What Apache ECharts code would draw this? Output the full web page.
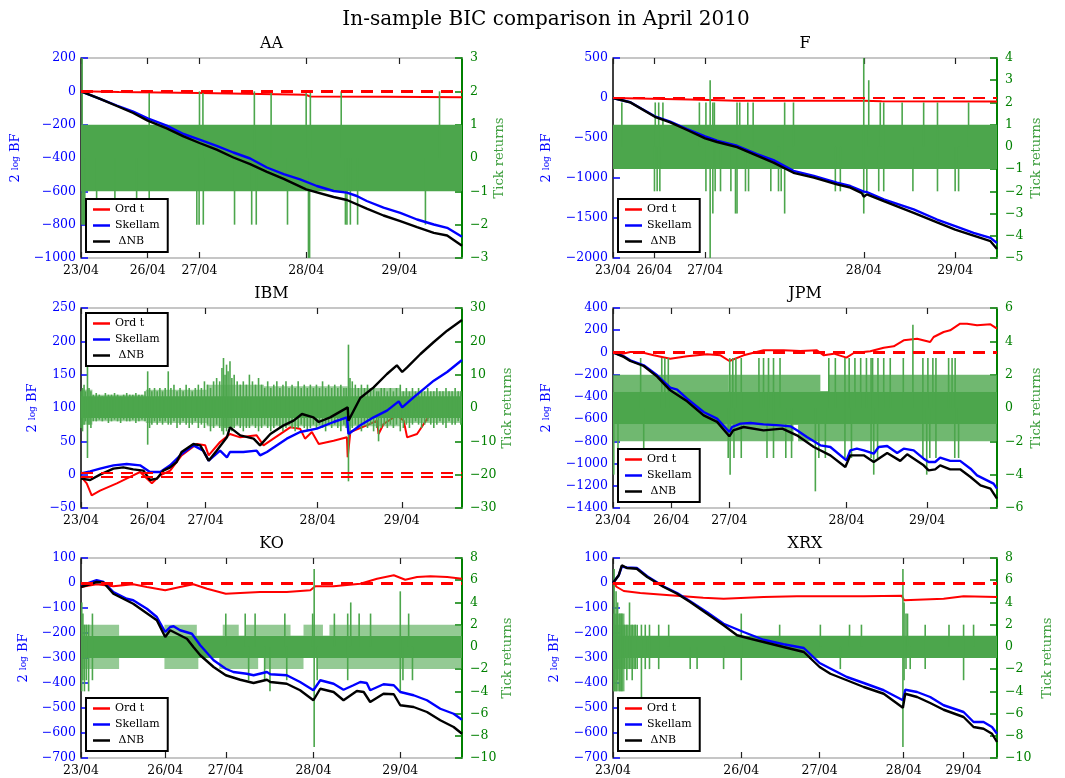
<!DOCTYPE html>
<html>
<head>
<meta charset="utf-8">
<title>In-sample BIC comparison in April 2010</title>
<script src="https://cdn.jsdelivr.net/npm/echarts@6/dist/echarts.min.js"></script>
<style>
  html, body { margin: 0; padding: 0; background: #ffffff; }
  #chart { width: 1065px; height: 778px; }
</style>
</head>
<body>
<div id="chart"></div>
<script>
// ---------------------------------------------------------------------------
// Data. x is the tick (observation) index of each stock, rescaled to 0..1000.
// Line values are 2 log Bayes factors; return values are tick returns.
// Return blocks: [x0, x1, lo, hi, share of ticks reaching that level].
// Return excursions: [x, lo, hi].
// ---------------------------------------------------------------------------
const dayLabels = ['23/04', '26/04', '27/04', '28/04', '29/04'];
const seriesNames = ['Ord t', 'Skellam', '\u0394NB'];
const thresholds = [2.5, -2.5];

// ---- AA ----
const aaDays = [0, 175, 311, 591, 836];
const aaOrdT = [[0,0],[100,-4],[311,-10],[591,-21],[602,-31],[800,-33],[1000,-35]];
const aaSkellam = [[0,0],[50,-45],[94,-85],[137,-122],[175,-162],[225,-206],[269,-256],[311,-290],[356,-327],[400,-367],[444,-403],[488,-457],[532,-497],[575,-528],[619,-568],[663,-598],[698,-608],[724,-628],[750,-658],[794,-698],[838,-729],[882,-769],[926,-799],[961,-819],[1000,-873]];
const aaDnb = [[0,0],[50,-45],[94,-88],[137,-130],[175,-176],[225,-222],[269,-270],[311,-310],[356,-350],[400,-397],[444,-437],[488,-483],[532,-525],[591,-588],[663,-634],[698,-652],[750,-704],[794,-745],[838,-779],[882,-815],[926,-849],[961,-865],[1000,-926]];
const aaBand = [[0,1000,-1,1,1]];
const aaSpikes = [[3,-2,3],[6,-2,0],[10,-2,0],[41,-2,0],[89,-2,0],[146,-2,0],[179,-2,2],[304,-2,0],[310,-2,0],[311,0,2],[320,0,2],[321,-2,0],[403,-2,0],[448,-2,0],[455,0,2],[460,-2,0],[499,0,2],[542,-2,0],[591,0,2],[597,-3,0],[600,-3,0],[602,0,2],[683,0,2],[694,-2,0],[698,-2,0],[707,-2,0],[726,-2,0],[904,-2,0],[941,0,2]];

// ---- F ----
const fDays = [0, 108, 240, 653, 891];
const fOrdT = [[0,0],[100,-10],[200,-20],[323,-35],[653,-35],[700,-40],[1000,-45]];
const fSkellam = [[0,0],[45,-53],[109,-229],[149,-296],[193,-388],[240,-480],[271,-534],[323,-597],[375,-702],[418,-777],[470,-911],[523,-974],[583,-1058],[618,-1100],[653,-1171],[661,-1175],[705,-1267],[783,-1393],[844,-1519],[891,-1602],[939,-1686],[983,-1749],[1000,-1812]];
const fDnb = [[0,0],[45,-55],[109,-235],[149,-305],[193,-400],[240,-505],[271,-550],[323,-615],[375,-720],[418,-807],[470,-935],[523,-995],[583,-1080],[618,-1120],[648,-1190],[653,-1234],[661,-1205],[705,-1290],[783,-1435],[844,-1555],[891,-1644],[939,-1720],[983,-1790],[1000,-1887]];
const fBand = [[0,1000,-1,1,1]];
const fSpikes = [[23,0,2],[108,-2,0],[110,0,2],[115,-2,0],[119,0,2],[122,-2,0],[130,0,2],[225,0,2],[242,-2,2],[253,-5,3],[260,-3,2],[264,0,2],[266,-2,0],[280,-2,0],[307,-2,0],[319,-3,0],[323,-3,2],[330,0,2],[345,-2,0],[351,0,2],[353,-2,0],[365,0,2],[411,-2,0],[431,-2,0],[438,-2,0],[447,-3,2],[470,0,2],[579,-2,0],[592,-2,0],[653,-3,4],[661,-2,0],[666,0,3],[692,-2,0],[696,0,2],[705,-2,2],[753,0,2],[781,-2,0],[809,0,2],[845,-2,2],[891,-2,0],[900,-2,0],[926,0,2]];

// ---- IBM ----
const ibmDays = [0, 175, 327, 621, 842];
const ibmOrdT = [[0,-3],[15,-13],[28,-31],[50,-24],[94,-13],[137,-1],[155,4],[186,-13],[208,-1],[234,6],[264,29],[304,46],[326,44],[335,29],[365,49],[391,61],[418,56],[461,59],[479,44],[505,54],[549,71],[575,69],[588,54],[606,64],[624,46],[663,51],[698,56],[700,26],[707,64],[750,74],[777,81],[781,61],[794,76],[829,89],[847,81],[856,56],[882,61],[917,91],[961,96],[978,106],[1000,102]];
const ibmSkellam = [[0,2],[24,5],[50,9],[85,14],[120,16],[155,14],[181,4],[208,4],[234,14],[264,31],[295,44],[321,36],[335,21],[365,36],[383,26],[391,34],[426,34],[461,36],[470,29],[488,34],[540,54],[575,64],[619,69],[663,79],[698,86],[702,61],[733,74],[768,86],[803,96],[834,110],[843,101],[873,116],[926,141],[961,154],[1000,172]];
const ibmDnb = [[0,-6],[24,-8],[50,0],[85,9],[111,11],[137,8],[164,6],[181,-8],[199,-6],[216,6],[234,11],[251,19],[264,34],[295,46],[313,44],[335,21],[356,36],[383,56],[391,71],[418,59],[453,54],[470,44],[497,61],[532,74],[558,81],[580,91],[610,86],[624,79],[654,86],[700,101],[702,81],[733,115],[768,131],[803,151],[829,164],[843,154],[856,161],[891,181],[926,199],[961,216],[1000,232]];
const ibmBand = [[0,1000,-3,3.5,1],
  [0,30,-5,5.5,0.55],[30,170,-4,4,0.55],[170,330,-4.5,5.5,0.55],[330,480,-5.5,7,0.55],
  [480,700,-5.5,6.5,0.55],[700,840,-5.5,6,0.55],[840,1000,-4.5,5,0.55]];
const ibmSpikes = [[0,-6,5],[4,-7,6],[8,-5,7],[12,-4,5],[17,-15,13],[21,-5,6],[26,-6,5],[32,-4,4],[40,-4,4.5],[48,-3.5,4],[56,-4,3.5],[64,-3.5,4.5],[72,-4.5,4],[80,-4,4],[88,-3.5,4.5],[96,-4,4],[104,-4.5,3.5],[112,-3.5,4],[120,-4,4.5],[128,-4,4],[136,-3.5,4],[144,-4.5,4.5],[152,-4,4],[160,-3.5,4],[168,-4,5],[175,-11,11],[180,-6,6],[186,-5,5],[193,-4,6],[200,-5,5],[207,-4,6],[214,-5,5],[221,-4,6],[229,-5,11],[236,-5,6],[244,-4,7],[252,-6,5],[260,-5,6],[268,-4,5],[276,-5,7],[284,-6,6],[292,-5,5],[300,-4,6],[308,-6,7],[316,-5,6],[324,-6,8],[332,-5,7],[340,-7,6],[348,-6,8],[356,-5,9],[364,-6,8],[370,-7,12],[374,-8,15],[378,-6,10],[382,-7,13],[386,-6,11],[391,-6,14],[396,-7,9],[402,-6,10],[410,-5,8],[418,-6,7],[426,-7,8],[434,-6,7],[442,-6,10],[450,-5,8],[458,-6,7],[466,-7,9],[474,-6,7],[482,-5,6],[490,-6,8],[498,-7,6],[506,-6,7],[514,-5,8],[522,-6,6],[530,-7,7],[538,-6,8],[546,-5,6],[554,-6,7],[562,-7,6],[570,-6,8],[578,-5,6],[586,-6,7],[594,-7,6],[602,-6,7],[610,-5,6],[618,-6,7],[626,-5,6],[634,-6,8],[642,-7,6],[650,-5,7],[658,-6,6],[666,-5,7],[674,-6,6],[682,-7,7],[690,-5,6],[696,-6,6],[702,-22,19],[706,-8,9],[712,-6,8],[720,-5,7],[728,-6,6],[736,-7,7],[744,-5,6],[752,-6,7],[760,-5,6],[768,-7,6],[776,-6,5],[781,-10,5],[788,-6,6],[796,-5,6],[804,-6,5],[812,-5,6],[820,-6,5],[828,-5,6],[838,-7,7],[846,-6,5],[854,-5,6],[862,-6,5],[870,-5,6],[878,-4,5],[886,-5,6],[894,-6,5],[902,-5,5],[910,-4,6],[918,-5,5],[926,-6,5],[934,-5,6],[942,-4,5],[950,-5,5],[958,-6,6],[966,-4,5],[974,-5,5],[982,-5,6],[990,-4,5],[997,-5,5]];

// ---- JPM ----
const jpmDays = [0, 152, 303, 608, 818];
const jpmOrdT = [[0,4],[19,-17],[45,4],[71,4],[106,-26],[149,-56],[193,-35],[245,-17],[280,-26],[303,-77],[340,-26],[392,19],[444,19],[488,13],[531,19],[549,-26],[575,-11],[608,-47],[627,-5],[670,10],[705,43],[731,55],[757,109],[792,124],[826,94],[835,139],[861,184],[878,199],[904,259],[922,259],[948,244],[983,253],[1000,214]];
const jpmSkellam = [[0,0],[28,-35],[45,-71],[80,-116],[115,-206],[149,-317],[167,-335],[193,-416],[236,-536],[271,-596],[303,-716],[310,-671],[332,-641],[358,-635],[392,-647],[436,-656],[462,-665],[479,-701],[505,-761],[540,-836],[566,-851],[608,-971],[618,-881],[635,-866],[653,-881],[679,-911],[692,-851],[714,-842],[740,-905],[757,-866],[783,-881],[809,-956],[822,-986],[839,-986],[852,-947],[878,-976],[904,-976],[931,-1046],[948,-1106],[974,-1151],[991,-1181],[1000,-1226]];
const jpmDnb = [[0,0],[28,-40],[45,-77],[80,-122],[115,-218],[149,-341],[193,-440],[236,-566],[271,-625],[303,-755],[313,-701],[340,-671],[392,-701],[441,-686],[479,-746],[523,-851],[566,-926],[605,-1031],[618,-926],[653,-926],[679,-986],[714,-905],[748,-976],[766,-917],[809,-1016],[822,-1061],[839,-1052],[852,-1016],[878,-1052],[904,-1052],[931,-1121],[957,-1196],[983,-1226],[1000,-1316]];
const jpmBand = [[0,1000,-1,1,1],
  [0,300,1,2,0.8],[300,540,1,2,0.8],[560,1000,1,2,0.8],
  [0,470,-2,-1,0.8],[482,1000,-2,-1,0.8]];
const jpmSpikes = [[2,-4,0],[13,-3,0],[72,0,3],[80,-3,0],[127,0,3],[135,0,3],[144,0,3],[300,-3,0],[304,0,3],[305,-4,0],[312,0,3],[315,-3,0],[320,0,3],[334,-3,3],[380,0,3],[392,0,3],[401,-3,0],[405,0,3],[418,-3,3],[435,0,3],[450,-3,0],[465,-3,0],[527,-5,0],[536,-3,0],[553,-3,0],[562,0,3],[579,0,3],[604,-3,3],[615,0,3],[621,-3,0],[630,0,3],[645,0,3],[660,0,3],[672,-3,3],[676,0,3],[679,-4,0],[689,-3,0],[690,0,3],[705,0,3],[722,0,3],[756,0,3],[781,0,5],[807,-3,3],[817,-4,0],[820,0,3],[825,-3,0],[833,0,3],[841,-3,3],[874,0,3],[883,0,3],[890,-3,0],[891,0,3],[900,-3,0]];

// ---- KO ----
const koDays = [0, 221, 380, 610, 838];
const koOrdT = [[0,-16],[41,-5],[85,-13],[137,-5],[173,-16],[221,-29],[260,-16],[295,-5],[331,-23],[380,-43],[418,-40],[470,-36],[540,-36],[602,-29],[615,-13],[663,-13],[733,-3],[777,17],[821,31],[851,13],[882,24],[917,27],[961,24],[1000,17]];
const koSkellam = [[0,-9],[15,-3],[41,11],[59,4],[85,-36],[120,-63],[137,-69],[173,-103],[199,-136],[221,-196],[234,-176],[243,-173],[260,-189],[291,-203],[313,-249],[348,-309],[380,-343],[400,-356],[435,-363],[453,-369],[488,-356],[497,-365],[540,-369],[575,-396],[610,-429],[628,-389],[663,-403],[689,-427],[715,-409],[733,-396],[750,-400],[759,-429],[794,-405],[821,-409],[838,-436],[873,-449],[908,-469],[943,-503],[978,-523],[1000,-547]];
const koDnb = [[0,-16],[41,4],[59,2],[85,-43],[137,-83],[199,-149],[221,-216],[234,-189],[278,-223],[295,-256],[313,-289],[348,-336],[380,-369],[418,-387],[453,-400],[488,-387],[497,-396],[540,-403],[575,-429],[610,-469],[628,-423],[663,-436],[689,-469],[724,-432],[742,-436],[759,-476],[794,-443],[821,-445],[838,-489],[873,-496],[908,-516],[943,-549],[978,-576],[1000,-603]];
const koBand = [[0,1000,-1,1,1],
  [0,100,1,2,0.6],[219,304,1,2,0.6],[372,414,1,2,0.6],[431,550,1,2,0.6],[584,635,1,2,0.6],[652,1000,1,2,0.6],
  [0,100,-2,-1,0.6],[219,308,-2,-1,0.6],[363,465,-2,-1,0.6],[482,584,-2,-1,0.6],[618,1000,-2,-1,0.6]];
const koSpikes = [[2,-4,4],[5,-3,3],[9,-4,2],[14,-3,2],[20,-4,2],[30,-3,3],[380,0,3],[431,0,3],[440,-3,0],[457,0,3],[482,-3,0],[496,-4,0],[535,0,3],[540,-3,0],[608,0,3],[612,-9,7],[620,-3,0],[665,0,3],[700,-3,3],[708,0,4],[730,0,3],[760,0,3],[838,-4,5],[845,-3,0],[860,0,3],[870,-3,0]];

// ---- XRX ----
const xrxDays = [0, 334, 538, 757, 913];
const xrxOrdT = [[0,0],[10,-16],[28,-32],[71,-40],[148,-49],[235,-59],[288,-63],[392,-56],[479,-53],[653,-53],[752,-51],[758,-69],[792,-67],[861,-63],[913,-53],[1000,-56]];
const xrxSkellam = [[0,0],[15,31],[23,66],[36,62],[62,60],[89,27],[132,-14],[167,-40],[201,-73],[245,-117],[288,-163],[340,-196],[392,-227],[444,-245],[497,-260],[538,-320],[609,-376],[653,-400],[705,-429],[755,-469],[761,-427],[792,-436],[826,-456],[861,-489],[913,-516],[939,-556],[965,-556],[987,-576],[1000,-603]];
const xrxDnb = [[0,0],[15,31],[23,71],[36,60],[62,57],[89,24],[132,-16],[167,-43],[201,-76],[245,-123],[288,-169],[323,-209],[358,-223],[392,-236],[444,-256],[497,-276],[538,-336],[566,-363],[609,-389],[653,-416],[705,-443],[755,-499],[761,-443],[792,-456],[826,-480],[861,-507],[913,-536],[939,-576],[965,-583],[987,-603],[1000,-636]];
const xrxBand = [[0,1000,-1,1,1],[0,60,-2,2,0.8],[0,30,-4,3,0.8]];
const xrxSpikes = [[3,-4,7],[8,-4,5],[12,-3,4],[18,-4,3],[23,-4,3],[30,-2,2],[36,-3,2],[43,-2,4],[50,-3,2],[58,-2,2],[63,-2,2],[74,-5,2],[84,-2,2],[95,-2,2],[119,-2,2],[145,0,2],[201,-2,0],[219,-2,0],[288,-2,0],[334,-3,3],[434,0,2],[540,0,2],[592,-2,0],[616,0,2],[647,0,2],[755,-9,7],[758,-3,4],[763,-2,3],[767,0,3],[774,-2,0],[813,-2,2],[875,0,2],[913,-3,2],[939,0,2]];

// ---------------------------------------------------------------------------
// Layout of the six panels (pixels) and their axis ranges [min, max, step].
// ---------------------------------------------------------------------------
const panels = [
  { name: 'AA',  days: aaDays,  ordT: aaOrdT,  skellam: aaSkellam,  dnb: aaDnb,  band: aaBand,  spikes: aaSpikes,
    left: 81,  top: 58,  width: 381, bf: [-1000, 200, 200], ret: [-3, 3, 1],   legendTop: 199, leftGap: 59, rightGap: 31 },
  { name: 'F',   days: fDays,   ordT: fOrdT,   skellam: fSkellam,   dnb: fDnb,   band: fBand,   spikes: fSpikes,
    left: 613, top: 58,  width: 384, bf: [-2000, 500, 500], ret: [-5, 4, 1],   legendTop: 199, leftGap: 60, rightGap: 33 },
  { name: 'IBM', days: ibmDays, ordT: ibmOrdT, skellam: ibmSkellam, dnb: ibmDnb, band: ibmBand, spikes: ibmSpikes,
    left: 81,  top: 308, width: 381, bf: [-50, 250, 50],    ret: [-30, 30, 10], legendTop: 313, leftGap: 42, rightGap: 39 },
  { name: 'JPM', days: jpmDays, ordT: jpmOrdT, skellam: jpmSkellam, dnb: jpmDnb, band: jpmBand, spikes: jpmSpikes,
    left: 613, top: 308, width: 384, bf: [-1400, 400, 200], ret: [-6, 6, 2],   legendTop: 449, leftGap: 60, rightGap: 33 },
  { name: 'KO',  days: koDays,  ordT: koOrdT,  skellam: koSkellam,  dnb: koDnb,  band: koBand,  spikes: koSpikes,
    left: 81,  top: 558, width: 381, bf: [-700, 100, 100],  ret: [-10, 8, 2],  legendTop: 698, leftGap: 51, rightGap: 39 },
  { name: 'XRX', days: xrxDays, ordT: xrxOrdT, skellam: xrxSkellam, dnb: xrxDnb, band: xrxBand, spikes: xrxSpikes,
    left: 613, top: 558, width: 384, bf: [-700, 100, 100],  ret: [-10, 8, 2],  legendTop: 698, leftGap: 52, rightGap: 44 }
];

const SERIF = 'DejaVu Serif';
const BLUE = '#0000ff';
const RED = '#ff0000';
const GREEN = '#4ca64c';
const GREEN_AXIS = '#008000';
const PANEL_H = 200;

const minusSign = v => String(v).replace('-', '\u2212');

// Block of tick returns: [x0, x1, lo, hi, share]
function renderBand(params, api) {
  const a = api.coord([api.value(0), api.value(3)]);
  const b = api.coord([api.value(1), api.value(2)]);
  return { type: 'rect', shape: { x: a[0], y: a[1], width: b[0] - a[0], height: b[1] - a[1] },
           style: { fill: GREEN, opacity: api.value(4) } };
}
// Single tick-return excursion: [x, lo, hi]
function renderSpike(params, api) {
  const top = api.coord([api.value(0), api.value(2)]);
  const bot = api.coord([api.value(0), api.value(1)]);
  return { type: 'rect', shape: { x: top[0] - 0.8, y: top[1], width: 1.6, height: bot[1] - top[1] },
           style: { fill: GREEN } };
}

const titles = [{
  text: 'In-sample BIC comparison in April 2010', left: 546, top: 10, textAlign: 'center', padding: 0,
  textStyle: { fontFamily: SERIF, fontSize: 20, fontWeight: 'normal', color: '#000' }
}];
const grids = [], xAxes = [], yAxes = [], series = [], legends = [];

panels.forEach((p, i) => {
  grids.push({ left: p.left, top: p.top, width: p.width, height: PANEL_H, show: false });
  titles.push({
    text: p.name, left: p.left + p.width / 2, top: p.top - 22, textAlign: 'center', padding: 0,
    textStyle: { fontFamily: SERIF, fontSize: 16, fontWeight: 'normal', color: '#000' }
  });

  const days = p.days;
  const frame = { show: true, onZero: false, lineStyle: { color: '#b4b4b4', width: 1.5 } };
  const xTicks = { show: true, inside: true, length: 6, customValues: days, lineStyle: { color: '#222', width: 1.2 } };
  xAxes.push({
    gridIndex: i, type: 'value', min: 0, max: 1000, position: 'bottom',
    axisLine: frame, axisTick: xTicks, splitLine: { show: false },
    axisLabel: { show: true, customValues: days, margin: 6, fontFamily: SERIF, fontSize: 12.5, color: '#000',
                 formatter: v => dayLabels[days.indexOf(v)] }
  });
  xAxes.push({
    gridIndex: i, type: 'value', min: 0, max: 1000, position: 'top',
    axisLine: frame, axisTick: xTicks, splitLine: { show: false }, axisLabel: { show: false }
  });

  yAxes.push({
    gridIndex: i, type: 'value', position: 'left', min: p.bf[0], max: p.bf[1], interval: p.bf[2],
    axisLine: { show: true, onZero: false, lineStyle: { color: '#000', width: 1.5 } },
    axisTick: { show: true, inside: true, length: 7, lineStyle: { color: BLUE, width: 1.5 } },
    axisLabel: { margin: 5, fontFamily: SERIF, fontSize: 12.5, color: BLUE, formatter: minusSign },
    splitLine: { show: false },
    name: '{a|2 }{b|log}{a| BF}', nameLocation: 'middle', nameRotate: 90, nameGap: p.leftGap,
    nameTextStyle: { rich: { a: { fontFamily: SERIF, fontSize: 13, color: BLUE },
                             b: { fontFamily: SERIF, fontSize: 9, color: BLUE } } }
  });
  yAxes.push({
    gridIndex: i, type: 'value', position: 'right', min: p.ret[0], max: p.ret[1], interval: p.ret[2],
    axisLine: { show: true, onZero: false, lineStyle: { color: GREEN_AXIS, width: 2 } },
    axisTick: { show: true, inside: true, length: 7, lineStyle: { color: GREEN_AXIS, width: 1.5 } },
    axisLabel: { margin: 8, fontFamily: SERIF, fontSize: 12.5, color: GREEN_AXIS, formatter: minusSign },
    splitLine: { show: false },
    name: 'Tick returns', nameLocation: 'middle', nameRotate: 90, nameGap: p.rightGap,
    nameTextStyle: { fontFamily: SERIF, fontSize: 13, color: '#3f9f3f' }
  });

  const xi = 2 * i, yl = 2 * i, yr = 2 * i + 1;
  series.push({
    name: seriesNames[0], type: 'line', xAxisIndex: xi, yAxisIndex: yl, data: p.ordT,
    showSymbol: false, symbol: 'none', z: 2, silent: true,
    lineStyle: { color: RED, width: 2 }, itemStyle: { color: RED },
    markLine: { silent: true, symbol: 'none', label: { show: false },
                lineStyle: { color: RED, type: [12, 8], width: 2.2 },
                data: thresholds.map(t => ({ yAxis: t })) }
  });
  series.push({
    type: 'custom', xAxisIndex: xi, yAxisIndex: yr, data: p.band, renderItem: renderBand,
    encode: { x: [0, 1], y: [2, 3] }, z: 3, silent: true
  });
  series.push({
    type: 'custom', xAxisIndex: xi, yAxisIndex: yr, data: p.spikes, renderItem: renderSpike,
    encode: { x: 0, y: [1, 2] }, z: 3, silent: true
  });
  series.push({
    name: seriesNames[1], type: 'line', xAxisIndex: xi, yAxisIndex: yl, data: p.skellam,
    showSymbol: false, symbol: 'none', z: 4, silent: true,
    lineStyle: { color: BLUE, width: 2.4 }, itemStyle: { color: BLUE }
  });
  series.push({
    name: seriesNames[2], type: 'line', xAxisIndex: xi, yAxisIndex: yl, data: p.dnb,
    showSymbol: false, symbol: 'none', z: 4, silent: true,
    lineStyle: { color: '#000', width: 2.4 }, itemStyle: { color: '#000' }
  });

  legends.push({
    left: p.left + 5, top: p.legendTop, orient: 'vertical', data: seriesNames,
    icon: 'rect', itemWidth: 17, itemHeight: 2.5, itemGap: 5, itemTextGap: 11,
    padding: [5, 8, 5, 7], borderColor: '#000', borderWidth: 2, borderRadius: 0, backgroundColor: '#fff',
    selectedMode: false, z: 10,
    formatter: n => (n === '\u0394NB' ? ' \u0394NB' : n),
    textStyle: { fontFamily: SERIF, fontSize: 11, color: '#000' }
  });
});

const chart = echarts.init(document.getElementById('chart'), null, { renderer: 'canvas', width: 1065, height: 778 });
chart.setOption({
  animation: false,
  backgroundColor: '#ffffff',
  title: titles,
  grid: grids,
  xAxis: xAxes,
  yAxis: yAxes,
  legend: legends,
  series: series
});
</script>
</body>
</html>
